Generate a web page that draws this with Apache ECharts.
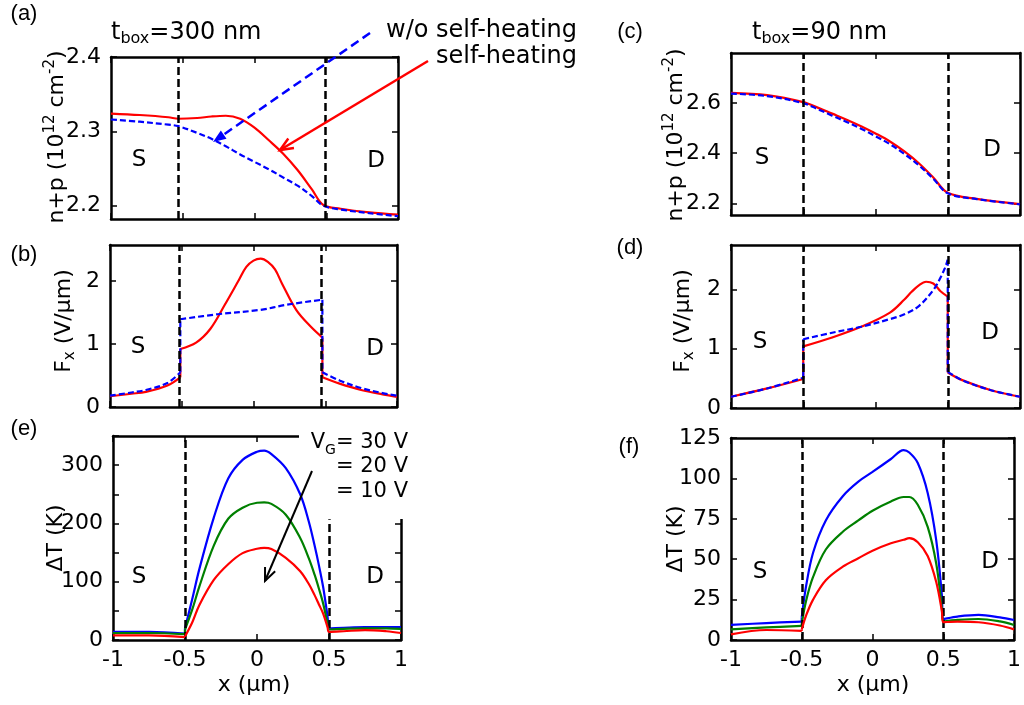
<!DOCTYPE html>
<html><head><meta charset="utf-8">
<script src="https://cdn.jsdelivr.net/npm/echarts@6/dist/echarts.min.js"></script>
<style>html,body{margin:0;padding:0;background:#fff}#c{width:1024px;height:705px}</style>
</head><body><div id="c"></div>
<script>
// ---------- DATA ----------
const xTicks = [-1, -0.5, 0, 0.5, 1];

// (a) n+p, t_box = 300 nm
const aX      = [-1, -0.8, -0.6, -0.53, -0.4, -0.3, -0.2, -0.1, 0, 0.1, 0.2, 0.3, 0.4, 0.48, 0.6, 0.8, 1];
const aSelf   = [2.324, 2.322, 2.319, 2.317, 2.318, 2.320, 2.321, 2.317, 2.305, 2.288, 2.270, 2.248, 2.222, 2.201, 2.196, 2.191, 2.188];
const aNoSelf = [2.316, 2.313, 2.309, 2.307, 2.298, 2.290, 2.280, 2.269, 2.259, 2.249, 2.238, 2.227, 2.213, 2.200, 2.195, 2.190, 2.186];
const aBounds = [-0.53, 0.486];
const aYTicks = [2.2, 2.3, 2.4];

// (b) Fx, t_box = 300 nm
const bSelfX   = [-1, -0.85, -0.75, -0.6, -0.51, -0.51, -0.4, -0.3, -0.2, -0.1, -0.05, 0, 0.05, 0.1, 0.15, 0.2, 0.3, 0.4, 0.48, 0.48, 0.6, 0.75, 0.9, 1];
const bSelf    = [0.17, 0.21, 0.24, 0.34, 0.47, 0.92, 1.02, 1.24, 1.62, 2.02, 2.22, 2.32, 2.35, 2.30, 2.18, 1.95, 1.53, 1.27, 1.10, 0.47, 0.37, 0.27, 0.20, 0.16];
const bNoSelfX = [-1, -0.85, -0.75, -0.6, -0.51, -0.51, -0.25, 0.05, 0.23, 0.48, 0.48, 0.6, 0.75, 0.9, 1];
const bNoSelf  = [0.18, 0.23, 0.27, 0.38, 0.55, 1.39, 1.47, 1.54, 1.62, 1.70, 0.55, 0.42, 0.30, 0.22, 0.18];
const bBounds = [-0.515, 0.475];
const bYTicks = [0, 1, 2];

// (c) n+p, t_box = 90 nm
const cX      = [-1, -0.75, -0.5, -0.4, -0.3, -0.2, -0.1, 0, 0.1, 0.2, 0.3, 0.4, 0.5, 0.7, 1];
const cSelf   = [2.641, 2.632, 2.604, 2.582, 2.558, 2.534, 2.508, 2.479, 2.447, 2.407, 2.360, 2.303, 2.242, 2.218, 2.197];
const cNoSelf = [2.638, 2.628, 2.600, 2.576, 2.550, 2.525, 2.498, 2.468, 2.436, 2.397, 2.352, 2.298, 2.240, 2.217, 2.196];
const cBounds = [-0.5, 0.5];
const cYTicks = [2.2, 2.4, 2.6];

// (d) Fx, t_box = 90 nm
const dSelfX   = [-1, -0.75, -0.5, -0.5, -0.3, -0.1, 0.1, 0.2, 0.25, 0.3, 0.35, 0.4, 0.45, 0.5, 0.5, 0.6, 0.8, 1];
const dSelf    = [0.19, 0.33, 0.49, 1.04, 1.19, 1.37, 1.61, 1.83, 1.96, 2.07, 2.13, 2.10, 1.97, 1.88, 0.60, 0.47, 0.30, 0.19];
const dNoSelfX = [-1, -0.75, -0.5, -0.5, -0.3, -0.1, 0.1, 0.2, 0.3, 0.4, 0.45, 0.48, 0.5, 0.5, 0.6, 0.8, 1];
const dNoSelf  = [0.19, 0.33, 0.51, 1.16, 1.27, 1.37, 1.50, 1.58, 1.72, 1.99, 2.20, 2.36, 2.50, 0.61, 0.47, 0.30, 0.19];
const dBounds = [-0.5, 0.5];
const dYTicks = [0, 1, 2];

// (e) Delta T, t_box = 300 nm
const eX    = [-1, -0.75, -0.5, -0.5, -0.45, -0.4, -0.3, -0.2, -0.1, 0, 0.05, 0.1, 0.2, 0.3, 0.36, 0.4, 0.43, 0.46, 0.49, 0.5, 0.6, 0.75, 0.9, 1];
const eV30  = [14, 14, 11, 20, 70, 122, 210, 277, 309, 323, 325, 319, 295, 250, 203, 162, 128, 90, 40, 20, 21, 22, 22, 22];
const eV20  = [12, 12, 10, 18, 52, 92, 162, 208, 227, 235.5, 236, 233.5, 215, 175, 140, 112, 88, 62, 28, 18, 19, 20, 20, 19];
const eV10  = [8, 8, 5, 6, 30, 60, 103, 130, 149, 156.5, 158, 156, 141, 118, 96, 77, 61, 45, 22, 14, 15, 17, 15, 12];
const eBounds = [-0.5, 0.5];
const eRightBoundTop = 207;
const eYTicks  = [0, 50, 100, 150, 200, 250, 300, 350];
const eYLabels = [0, 100, 200, 300];

// (f) Delta T, t_box = 90 nm
const fX    = [-1, -0.75, -0.5, -0.5, -0.47, -0.42, -0.33, -0.21, -0.1, 0, 0.13, 0.22, 0.26, 0.32, 0.39, 0.45, 0.49, 0.5, 0.6, 0.75, 0.9, 1];
const fV30  = [9.3, 10.5, 11.4, 14, 33, 54, 74, 89, 98, 104, 112, 117.5, 116, 109.5, 91, 62, 28, 13, 14.5, 15.5, 14, 12.4];
const fV20  = [6.6, 7.8, 8.7, 10, 24, 39, 56, 67, 74, 80, 85.7, 88.5, 88.5, 83.7, 70, 47.5, 20, 11.5, 12.4, 13, 11.5, 9.3];
const fV10  = [3.5, 6.2, 5.6, 6.5, 15, 25, 37, 45.4, 50.6, 55.3, 59.9, 62, 63, 60.5, 52, 36, 18, 11, 11.4, 11, 9, 6.6];
const fBounds = [-0.5, 0.5];
const fYTicks = [0, 25, 50, 75, 100, 125];

// ---------- CHART ----------
const FONT = 'DejaVu Sans';
const RED = '#ff0000', BLUE = '#0000ff', GREEN = '#008000';
const pairs = (xs, ys) => xs.map((x, i) => [x, ys[i]]);

const panels = [
  {grid:{left:111, top:57, width:287, height:162}, yMin:2.1822, yMax:2.4, yTicks:aYTicks, yLabels:aYTicks, xLabels:false},
  {grid:{left:110, top:245, width:287, height:162}, yMin:0, yMax:2.567, yTicks:bYTicks, yLabels:bYTicks, xLabels:false},
  {grid:{left:113, top:436, width:288, height:204}, yMin:0, yMax:350, yTicks:eYTicks, yLabels:eYLabels, xLabels:true},
  {grid:{left:731, top:53, width:289, height:162}, yMin:2.1535, yMax:2.8, yTicks:cYTicks, yLabels:cYTicks, xLabels:false},
  {grid:{left:731, top:245, width:289, height:163}, yMin:0, yMax:2.75, yTicks:dYTicks, yLabels:dYTicks, xLabels:false},
  {grid:{left:731, top:438, width:289, height:202}, yMin:0, yMax:125, yTicks:fYTicks, yLabels:fYTicks, xLabels:true}
];

const axLine = {show:true, onZero:false, lineStyle:{color:'#000', width:2.5}};
const tickStyle = {color:'#000', width:1.5};
const grids = [], xAxes = [], yAxes = [];
panels.forEach((p, i) => {
  grids.push(Object.assign({containLabel:false}, p.grid));
  ['bottom', 'top'].forEach((pos, k) => xAxes.push({
    gridIndex:i, type:'value', min:-1, max:1, position:pos,
    axisLine:axLine, splitLine:{show:false},
    axisTick:{show:true, inside:true, length:6, customValues:xTicks, lineStyle:tickStyle},
    axisLabel:{show:p.xLabels && k === 0, customValues:xTicks, color:'#000', fontSize:22, fontFamily:FONT, margin:9}
  }));
  ['left', 'right'].forEach((pos, k) => yAxes.push({
    gridIndex:i, type:'value', min:p.yMin, max:p.yMax, position:pos,
    axisLine:axLine, splitLine:{show:false},
    axisTick:{show:true, inside:true, length:6, customValues:p.yTicks, lineStyle:tickStyle},
    axisLabel:{show:k === 0, customValues:p.yLabels, color:'#000', fontSize:22, fontFamily:FONT, margin:10}
  }));
});

const bLine = (data) => ({silent:true, symbol:['none','none'], label:{show:false}, animation:false,
  lineStyle:{color:'#000', type:[8,4], width:2.5}, emphasis:{disabled:true}, data});

// one curve -> smoothed pieces between the jumps (repeated x) + straight jump connectors
const series = [];
function curve(pi, xs, ys, color, dashed, z, markLine) {
  const pts = pairs(xs, ys);
  const pieces = [[pts[0]]], jumps = [];
  for (let i = 1; i < pts.length; i++) {
    if (pts[i][0] === pts[i-1][0]) { jumps.push([pts[i-1], pts[i]]); pieces.push([pts[i]]); }
    else pieces[pieces.length-1].push(pts[i]);
  }
  const base = {type:'line', xAxisIndex:2*pi, yAxisIndex:2*pi, symbol:'none', showSymbol:false,
    z, silent:true, animation:false, lineStyle:{color, width:2.2, type: dashed ? [6,3] : 'solid'}};
  pieces.forEach((d, k) => {
    const s = Object.assign({}, base, {data:d, smooth:0.35});
    if (k === 0 && markLine) s.markLine = markLine;
    series.push(s);
  });
  jumps.forEach(d => series.push(Object.assign({}, base, {data:d, smooth:false})));
}

curve(0, aX, aSelf, RED, false, 3, bLine(aBounds.map(v => ({xAxis:v}))));
curve(0, aX, aNoSelf, BLUE, true, 4);
curve(1, bSelfX, bSelf, RED, false, 3, bLine(bBounds.map(v => ({xAxis:v}))));
curve(1, bNoSelfX, bNoSelf, BLUE, true, 4);
curve(2, eX, eV30, BLUE, false, 3, bLine([{xAxis:eBounds[0]}, [{coord:[eBounds[1], 0]}, {coord:[eBounds[1], eRightBoundTop]}]]));
curve(2, eX, eV20, GREEN, false, 4);
curve(2, eX, eV10, RED, false, 5);
curve(3, cX, cSelf, RED, false, 3, bLine(cBounds.map(v => ({xAxis:v}))));
curve(3, cX, cNoSelf, BLUE, true, 4);
curve(4, dSelfX, dSelf, RED, false, 3, bLine(dBounds.map(v => ({xAxis:v}))));
curve(4, dNoSelfX, dNoSelf, BLUE, true, 4);
curve(5, fX, fV30, BLUE, false, 3, bLine(fBounds.map(v => ({xAxis:v}))));
curve(5, fX, fV20, GREEN, false, 4);
curve(5, fX, fV10, RED, false, 5);

// ---------- ANNOTATIONS ----------
const txt = (x, y, text, size, extra, family) => ({type:'text', x, y, z:100, silent:true,
  style:Object.assign({text, fill:'#000', fontSize:size, fontFamily:family || FONT,
    align:'center', verticalAlign:'middle', textAlign:'center', textVerticalAlign:'middle'}, extra || {})});
const rich = (m, s) => ({
  m:{fontSize:m, fontFamily:FONT, fill:'#000', lineHeight:28, verticalAlign:'middle'},
  sup:{fontSize:s, fontFamily:FONT, fill:'#000', lineHeight:13, verticalAlign:'top'},
  sub:{fontSize:s, fontFamily:FONT, fill:'#000', lineHeight:12, verticalAlign:'bottom'}
});
const rot = (el) => Object.assign(el, {rotation:Math.PI/2});

function arrow(x1, y1, x2, y2, color, width, dash, hl, hw, filled) {
  const L = Math.hypot(x2-x1, y2-y1), ux = (x2-x1)/L, uy = (y2-y1)/L, px = -uy, py = ux;
  const bx = x2 - ux*hl, by = y2 - uy*hl;
  const pts = [[bx + px*hw/2, by + py*hw/2], [x2, y2], [bx - px*hw/2, by - py*hw/2]];
  const ex = filled ? bx : x2, ey = filled ? by : y2;
  return [
    {type:'line', z:90, silent:true, shape:{x1, y1, x2:ex, y2:ey}, style:{stroke:color, lineWidth:width, lineDash:dash || null}},
    filled ? {type:'polygon', z:90, silent:true, shape:{points:pts}, style:{fill:color}}
           : {type:'polyline', z:90, silent:true, shape:{points:pts}, style:{stroke:color, lineWidth:width, fill:null}}
  ];
}

const graphic = [
  // mask hiding the top-right frame of (e) behind the V_G legend
  {type:'rect', z:1, silent:true, shape:{x:299, y:425, width:115, height:94}, style:{fill:'#fff'}},
  // panel letters
  txt(24, 14, '(a)', 22, null, 'Liberation Sans'),
  txt(24, 255, '(b)', 22, null, 'Liberation Sans'),
  txt(24, 429, '(e)', 22, null, 'Liberation Sans'),
  txt(630, 32, '(c)', 22, null, 'Liberation Sans'),
  txt(630, 248, '(d)', 22, null, 'Liberation Sans'),
  txt(629, 447, '(f)', 22, null, 'Liberation Sans'),
  // titles
  txt(111, 33, '{m|t}{sub|box}{m|=300 nm}', 24, {align:'left', textAlign:'left', rich:rich(24, 16)}),
  txt(752, 33, '{m|t}{sub|box}{m|=90 nm}', 24, {align:'left', textAlign:'left', rich:rich(24, 16)}),
  txt(577, 31, 'w/o self-heating', 24, {align:'right', textAlign:'right'}),
  txt(577, 57, 'self-heating', 24, {align:'right', textAlign:'right'}),
  // y titles
  rot(txt(57, 137, '{m|n+p (10}{sup|12}{m| cm}{sup|-2}{m|)}', 22, {rich:rich(22, 15)})),
  rot(txt(676, 135, '{m|n+p (10}{sup|12}{m| cm}{sup|-2}{m|)}', 22, {rich:rich(22, 15)})),
  rot(txt(64, 321, '{m|F}{sub|x}{m| (V/μm)}', 22, {rich:rich(22, 15)})),
  rot(txt(683, 321, '{m|F}{sub|x}{m| (V/μm)}', 22, {rich:rich(22, 15)})),
  rot(txt(56, 538, 'ΔT (K)', 22)),
  rot(txt(676, 539, 'ΔT (K)', 22)),
  // x titles
  txt(254, 685, 'x (μm)', 22),
  txt(873, 685, 'x (μm)', 22),
  // S / D
  txt(139, 160, 'S', 23), txt(376, 161, 'D', 23),
  txt(138, 347, 'S', 23), txt(375, 349, 'D', 23),
  txt(139, 577, 'S', 23), txt(375, 577, 'D', 23),
  txt(762, 158, 'S', 23), txt(992, 150, 'D', 23),
  txt(760, 342, 'S', 23), txt(990, 333, 'D', 23),
  txt(760, 572, 'S', 23), txt(990, 562, 'D', 23),
  // V_G legend of (e)
  txt(408, 443, '{m|V}{sub|G}{m|= 30 V}', 21, {align:'right', textAlign:'right', rich:rich(21, 14)}),
  txt(408, 467, '= 20 V', 21, {align:'right', textAlign:'right'}),
  txt(408, 492, '= 10 V', 21, {align:'right', textAlign:'right'})
].concat(
  arrow(370, 33, 213, 142, BLUE, 2.5, [9, 5], 13, 10, true),
  arrow(428, 61, 280, 150, RED, 2.5, null, 13, 11, false),
  arrow(312, 471, 265, 581, '#000', 2, null, 13, 11, false)
);

const chart = echarts.init(document.getElementById('c'), null, {renderer:'canvas'});
chart.setOption({
  animation:false, backgroundColor:'#fff',
  grid:grids, xAxis:xAxes, yAxis:yAxes, series, graphic
});
</script></body></html>
